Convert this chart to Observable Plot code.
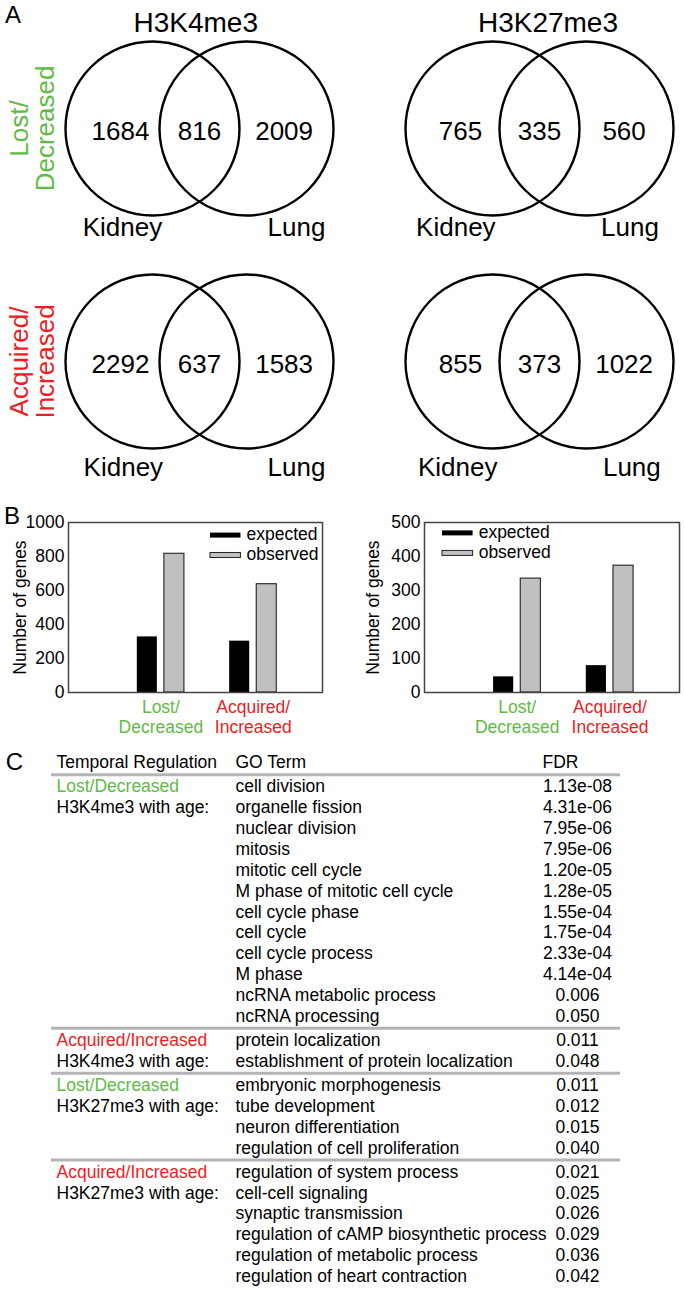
<!DOCTYPE html>
<html>
<head>
<meta charset="utf-8">
<script src="https://cdn.jsdelivr.net/npm/d3@7"></script>
<script src="https://cdn.jsdelivr.net/npm/@observablehq/plot@0.6"></script>
<style>
  body { margin: 0; background: #fff; }
  #fig { position: relative; width: 685px; height: 1290px; overflow: hidden; background: #fff; }
  #fig svg { position: absolute; overflow: visible; background: transparent; }
</style>
</head>
<body>
<div id="fig"></div>
<script>
// ---------------- DATA ----------------
// Panel A: Venn diagrams (Kidney only, both, Lung only)
const histoneMarks = ["H3K4me3", "H3K27me3"];
const changeLabels = ["Lost/\nDecreased", "Acquired/\nIncreased"];
const tissues = ["Kidney", "Lung"];
const h3k4me3Lost = [1684, 816, 2009];
const h3k27me3Lost = [765, 335, 560];
const h3k4me3Acquired = [2292, 637, 1583];
const h3k27me3Acquired = [855, 373, 1022];

// Panel B: expected vs observed overlaps
const barGroups = ["Lost/\nDecreased", "Acquired/\nIncreased"];
const barSeries = ["expected", "observed"];
const h3k4me3Expected = [327, 302];
const h3k4me3Observed = [816, 637];
const h3k27me3Expected = [46, 79];
const h3k27me3Observed = [335, 373];
const h3k4me3Ticks = [0, 200, 400, 600, 800, 1000];
const h3k27me3Ticks = [0, 100, 200, 300, 400, 500];
const yAxisLabel = "Number of genes";

// Panel C: GO term table
const tableHeaders = ["Temporal Regulation", "GO Term", "FDR"];
const groupChange = ["Lost/Decreased", "Acquired/Increased", "Lost/Decreased", "Acquired/Increased"];
const groupMark = ["H3K4me3 with age:", "H3K4me3 with age:", "H3K27me3 with age:", "H3K27me3 with age:"];
const termsLostH3K4 = ["cell division", "organelle fission", "nuclear division", "mitosis", "mitotic cell cycle",
  "M phase of mitotic cell cycle", "cell cycle phase", "cell cycle", "cell cycle process", "M phase",
  "ncRNA metabolic process", "ncRNA processing"];
const fdrLostH3K4 = ["1.13e-08", "4.31e-06", "7.95e-06", "7.95e-06", "1.20e-05", "1.28e-05", "1.55e-04",
  "1.75e-04", "2.33e-04", "4.14e-04", "0.006", "0.050"];
const termsAcqH3K4 = ["protein localization", "establishment of protein localization"];
const fdrAcqH3K4 = ["0.011", "0.048"];
const termsLostH3K27 = ["embryonic morphogenesis", "tube development", "neuron differentiation",
  "regulation of cell proliferation"];
const fdrLostH3K27 = ["0.011", "0.012", "0.015", "0.040"];
const termsAcqH3K27 = ["regulation of system process", "cell-cell signaling", "synaptic transmission",
  "regulation of cAMP biosynthetic process", "regulation of metabolic process", "regulation of heart contraction"];
const fdrAcqH3K27 = ["0.021", "0.025", "0.026", "0.029", "0.036", "0.042"];

// ---------------- STYLE ----------------
const FONT = '"Liberation Sans", Arial, Helvetica, sans-serif';
const GREEN = "#62b946";
const RED = "#ee1d23";
const changeColors = [GREEN, RED];
const fig = document.getElementById("fig");
function place(svg, left, top) {
  svg.style.left = left + "px";
  svg.style.top = top + "px";
  fig.appendChild(svg);
}
const baseStyle = { fontFamily: FONT, fontSize: "17px", background: "transparent", overflow: "visible", color: "#000" };

// ---------------- PANEL A ----------------
function venn(counts, o) {
  const setX = [-0.5, 0.5];             // circle centres (Kidney, Lung)
  const regionX = [-0.84, 0.0, 0.9];    // label slots: Kidney only, both, Lung only
  const regions = counts.map((n, i) => ({ n, x: regionX[i] }));
  const marks = [
    Plot.dot(setX, { x: d => d, y: 0, r: 87, stroke: "#000", strokeWidth: 2.4, fill: "none" }),
    Plot.text(regions, { x: "x", y: 0, dy: 3, text: d => String(d.n), fontSize: 26 }),
    Plot.text([tissues[0]], { x: o.kidneyX, y: o.tissueY, text: d => d, fontSize: 26 }),
    Plot.text([tissues[1]], { x: o.lungX, y: o.tissueY, text: d => d, fontSize: 26, textAnchor: "end" })
  ];
  if (o.title) marks.push(Plot.text([o.title], { x: o.titleX, y: 1.122, text: d => d, fontSize: 28 }));
  if (o.rowLabel) marks.push(Plot.text([o.rowLabel], { x: -1.78, y: 0, text: d => d, rotate: -90, fill: o.rowColor, fontSize: 26, lineHeight: 1.0 }));
  if (o.panel) marks.push(Plot.text([o.panel], { x: -1.984, y: 1.2, text: d => d, fontSize: 24 }));
  return Plot.plot({
    width: 340, height: 250, margin: 0,
    x: { domain: [-2.117, 1.5], axis: null },
    y: { domain: [-1.2979, 1.3617], axis: null },
    style: baseStyle,
    marks
  });
}

place(venn(h3k4me3Lost, { title: histoneMarks[0], titleX: -0.04, rowLabel: changeLabels[0], rowColor: changeColors[0],
  kidneyX: -0.82, lungX: 1.34, tissueY: -1.06, panel: "A" }), 0, 0);
place(venn(h3k27me3Lost, { title: histoneMarks[1], titleX: 0.09,
  kidneyX: -0.89, lungX: 1.27, tissueY: -1.06 }), 340, 0);
place(venn(h3k4me3Acquired, { rowLabel: changeLabels[1], rowColor: changeColors[1],
  kidneyX: -0.81, lungX: 1.34, tissueY: -1.13 }), 0, 233);
place(venn(h3k27me3Acquired, {
  kidneyX: -0.87, lungX: 1.29, tissueY: -1.13 }), 340, 233);

// ---------------- PANEL B ----------------
function bars(expected, observed, ticks, o) {
  const xMax = 2.75, bw = 0.217, gap = 0.038;
  const yMax = ticks[ticks.length - 1];
  const rows = barGroups.map((g, i) => ({ group: g, pos: i + 1, expected: expected[i], observed: observed[i], color: changeColors[i] }));
  const sw = 0.0147 * yMax; // legend swatch half-thickness
  const legend = barSeries.map((s, i) => ({ s, y: o.legendY[i] * yMax }));
  const marks = [
    Plot.rectY(rows, { x1: d => d.pos - gap - bw, x2: d => d.pos - gap, y: "expected", fill: "#000" }),
    Plot.rectY(rows, { x1: d => d.pos + gap, x2: d => d.pos + gap + bw, y: "observed", fill: "#c0c0c0", stroke: "#222", strokeWidth: 1.1 }),
    Plot.frame({ stroke: "#444", strokeWidth: 1.5 }),
    Plot.text([yAxisLabel], { frameAnchor: "left", dx: o.yLabelDx, rotate: -90, textAnchor: "middle", text: d => d, fontSize: 17.5 }),
    Plot.rect([legend[0]], { x1: o.legendX, x2: o.legendX + 0.33, y1: d => d.y - sw, y2: d => d.y + sw, fill: "#000" }),
    Plot.rect([legend[1]], { x1: o.legendX, x2: o.legendX + 0.33, y1: d => d.y - sw, y2: d => d.y + sw, fill: "#c0c0c0", stroke: "#222", strokeWidth: 1 }),
    Plot.text(legend, { x: o.legendX + 0.39, y: "y", text: "s", textAnchor: "start", fontSize: 17.5, dy: -1 })
  ];
  rows.forEach(r => marks.push(Plot.text([r], { x: "pos", frameAnchor: "bottom", dy: 6, lineAnchor: "top", lineHeight: 1.15, text: "group", fill: r.color, fontSize: 17.5 })));
  if (o.panel) marks.push(Plot.text([o.panel], { frameAnchor: "top-left", dx: -56.5, dy: -15.5, text: d => d, fontSize: 24, textAnchor: "middle" }));
  return Plot.plot({
    width: o.width, height: 260,
    marginLeft: o.marginLeft, marginRight: o.marginRight, marginTop: 42, marginBottom: 48,
    x: { domain: [0, xMax], axis: null },
    y: { domain: [0, yMax], ticks, tickFormat: d => String(d), tickSize: 0, tickPadding: 4, label: null },
    style: { ...baseStyle, fontSize: "17.5px" },
    marks
  });
}

place(bars(h3k4me3Expected, h3k4me3Observed, h3k4me3Ticks,
  { width: 340, marginLeft: 68, marginRight: 18, yLabelDx: -48, legendX: 1.537, legendY: [0.923, 0.806], panel: "B" }), 0, 480);
place(bars(h3k27me3Expected, h3k27me3Observed, h3k27me3Ticks,
  { width: 345, marginLeft: 84, marginRight: 6, yLabelDx: -51, legendX: 0.194, legendY: [0.936, 0.818] }), 340, 480);

// ---------------- PANEL C ----------------
const blocks = [
  { terms: termsLostH3K4, fdr: fdrLostH3K4 },
  { terms: termsAcqH3K4, fdr: fdrAcqH3K4 },
  { terms: termsLostH3K27, fdr: fdrLostH3K27 },
  { terms: termsAcqH3K27, fdr: fdrAcqH3K27 }
];
const blockGap = 0.16;
const tableRows = [];
const groupRows = [];
const separators = [];
let k = 0;
blocks.forEach((b, bi) => {
  const first = k + blockGap * bi;
  groupRows.push({ r: first, text: groupChange[bi], color: changeColors[bi % 2] });
  groupRows.push({ r: first + 1, text: groupMark[bi], color: "#000" });
  b.terms.forEach((t, i) => { tableRows.push({ r: k + blockGap * bi, term: t, fdr: b.fdr[i] }); k++; });
  if (bi < blocks.length - 1) separators.push((k - 1 + blockGap * bi + k + blockGap * (bi + 1)) / 2);
});
const headerR = -1 - blockGap;
separators.unshift(headerR / 2);
const colX = { reg: 56, term: 235, fdr: 577, fdrHead: 542, panel: 14, lineStart: 51, lineEnd: 620 };

const tableMarks = [
  Plot.ruleY(separators, { y: d => d, x1: colX.lineStart, x2: colX.lineEnd, stroke: "#b4b4b4", strokeWidth: 3 }),
  Plot.text(["C"], { x: colX.panel, y: headerR, text: d => d, fontSize: 24 }),
  Plot.text([tableHeaders[0]], { x: colX.reg, y: headerR, text: d => d, textAnchor: "start" }),
  Plot.text([tableHeaders[1]], { x: colX.term, y: headerR, text: d => d, textAnchor: "start" }),
  Plot.text([tableHeaders[2]], { x: colX.fdrHead, y: headerR, text: d => d, textAnchor: "start" }),
  Plot.text(tableRows, { x: colX.term, y: "r", text: "term", textAnchor: "start" }),
  Plot.text(tableRows, { x: colX.fdr, y: "r", text: "fdr", textAnchor: "middle" })
];
groupRows.forEach(g => tableMarks.push(Plot.text([g], { x: colX.reg, y: "r", text: "text", textAnchor: "start", fill: g.color })));

place(Plot.plot({
  width: 685, height: 545, margin: 0,
  x: { domain: [0, 685], range: [0, 685], axis: null },
  y: { domain: [-1.981, 24.158], range: [0, 545], axis: null },
  style: { ...baseStyle, fontSize: "17.5px" },
  marks: tableMarks
}), 0, 745);
</script>
</body>
</html>
